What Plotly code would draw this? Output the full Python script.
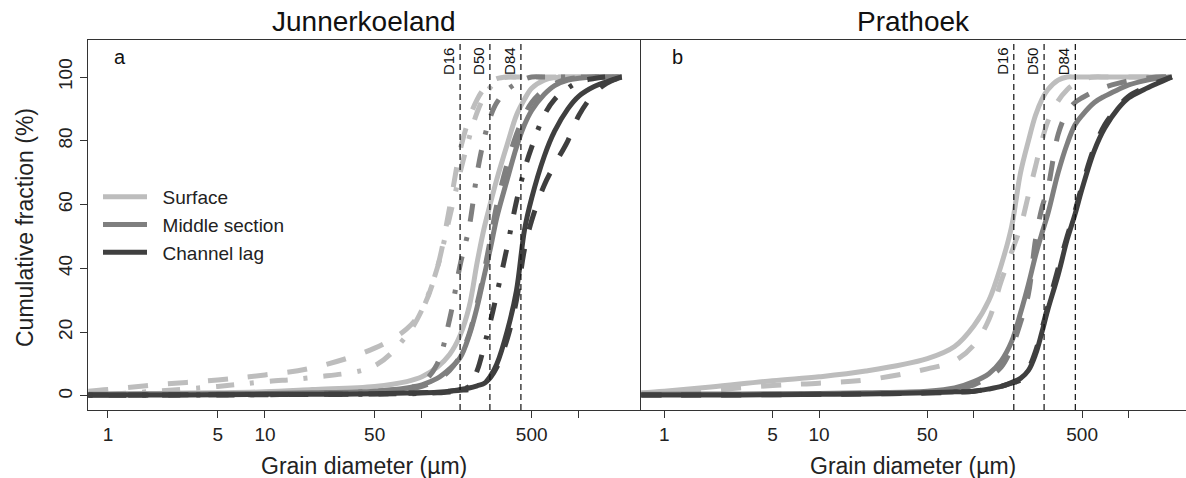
import math
import plotly.graph_objects as go

FONT = "Liberation Sans, Arial, sans-serif"
W, H = 1186, 478

# Colours of the three sampled horizons
C_SURF = "#bdbdbd"
C_MID = "#7f7f7f"
C_LAG = "#3f3f3f"

# ---- Junnerkoeland: grain-size classes (µm) and cumulative fractions (%) ----
JUN_DIAM = [0.75, 1, 2, 5, 10, 20, 50, 80, 100, 125, 150, 175, 200, 225, 250,
            275, 300, 350, 400, 450, 500, 600, 700, 850, 1000, 1250, 1500, 1870]

JUN_SURF_1 = [0.5, 0.6, 0.8, 1.0, 1.3, 2.0, 3.0, 4.5, 6, 9, 13, 19, 28, 42, 53,
              61, 68, 79, 88, 93, 96.5, 99, 99.8, 100, 100, 100, 100, 100]
JUN_SURF_2 = [1.5, 2, 3.5, 5, 6.6, 8.8, 15, 21, 27, 40, 59, 77, 87, 93, 96.5,
              98.5, 99.5, 100, 100, 100, 100, 100, 100, 100, 100, 100, 100, 100]
JUN_SURF_3 = [0.3, 0.5, 1.5, 3, 4.5, 5.8, 9.5, 19, 27, 40, 56, 70, 81, 89, 94,
              97, 99, 100, 100, 100, 100, 100, 100, 100, 100, 100, 100, 100]

JUN_MID_1 = [0.5, 0.5, 0.6, 0.7, 0.8, 1.0, 1.5, 2.5, 3.5, 5.5, 8.5, 12, 19, 28, 38,
             47, 56, 68, 78, 85, 89.5, 94.5, 97.3, 99, 99.6, 100, 100, 100]
JUN_MID_2 = [0.3, 0.3, 0.4, 0.5, 0.6, 0.8, 1.2, 2, 3, 5, 8, 12.5, 19.5, 29, 39.5,
             50, 60, 73, 82, 88, 92, 96, 98, 99.3, 99.8, 100, 100, 100]
JUN_MID_3 = [0.3, 0.3, 0.4, 0.5, 0.6, 0.8, 1.5, 2.5, 4, 10, 24, 41, 53, 70, 81,
             88, 92, 96, 98, 99.3, 100, 100, 100, 100, 100, 100, 100, 100]

JUN_LAG_1 = [0.3, 0.3, 0.3, 0.4, 0.5, 0.5, 0.7, 0.9, 1, 1.2, 1.5, 2, 2.5, 3.2, 4,
             6.5, 10, 20.5, 33, 52, 62, 75, 83, 90, 94, 97, 98.5, 100]
JUN_LAG_2 = [0.3, 0.3, 0.3, 0.4, 0.4, 0.5, 0.6, 0.8, 1, 1.2, 1.5, 1.8, 2, 3, 4,
             6, 9, 18, 30, 46, 55, 66, 72.5, 80, 88, 94.8, 98, 100]
JUN_LAG_3 = [0.2, 0.2, 0.3, 0.3, 0.4, 0.5, 0.6, 0.7, 0.8, 1, 1.2, 2, 3, 8, 16,
             24, 32, 47, 61, 71, 78, 88, 93, 96.5, 98.5, 99.5, 100, 100]

JUN_DPCT = [175, 271, 427]          # D16, D50, D84 (µm)

# ---- Prathoek ----
PRA_DIAM = [0.71, 1, 2, 5, 10, 20, 50, 75, 100, 125, 150, 175, 200, 225, 250,
            275, 300, 350, 400, 450, 500, 600, 700, 850, 1000, 1250, 1500, 1900]

PRA_SURF_1 = [1, 1.5, 2.8, 4.8, 6, 7.8, 11.7, 15.5, 22, 30, 41, 53, 70, 80, 88,
              93, 96, 99, 100, 100, 100, 100, 100, 100, 100, 100, 100, 100]
PRA_SURF_2 = [0.5, 0.8, 1.8, 3.3, 4, 5, 8.5, 11, 16, 24, 36, 45, 53, 63, 72,
              80, 86, 92.5, 96, 98, 99.3, 100, 100, 100, 100, 100, 100, 100]

PRA_MID_1 = [0.5, 0.5, 0.6, 0.7, 0.8, 1, 1.5, 2.5, 4.5, 7, 11, 17, 26, 35, 44,
             51, 57, 70, 79, 85, 88, 92, 94, 96, 97.5, 98.8, 99.5, 100]
PRA_MID_2 = [0.3, 0.3, 0.4, 0.5, 0.6, 0.8, 1.2, 2, 3.5, 6, 9, 15, 23, 32, 49,
             59, 65, 82, 89, 92, 93.5, 95.5, 96.8, 98, 98.8, 99.5, 100, 100]

PRA_LAG_1 = [0.3, 0.3, 0.3, 0.4, 0.5, 0.6, 1, 1.3, 1.5, 2.2, 3, 4.2, 5.5, 8, 13,
             20, 27, 38, 49, 57, 65, 77, 84, 90, 93.5, 96, 97.8, 100]
PRA_LAG_2 = [0.3, 0.3, 0.3, 0.4, 0.5, 0.6, 0.9, 1.2, 1.5, 2.2, 3, 4, 5, 8.5, 14,
             21, 28, 40, 50, 58, 66, 78, 85, 90.5, 94, 96.5, 98.2, 100]

PRA_DPCT = [181, 284, 452]

DPCT_LABELS = ["D16", "D50", "D84"]
LEGEND_NAMES = ["Surface", "Middle section", "Channel lag"]

X_TICKS = [1, 5, 10, 50, 100, 500, 1000]
X_TICK_TEXT = ["1", "5", "10", "50", "", "500", ""]
Y_TICKS = [0, 20, 40, 60, 80, 100]
Y_RANGE = [-4.4, 111.6]

DASH = {"solid": "solid", "dash": "20px,20px", "dashdot": "4px,16px,18px,16px"}
LW = 5


def curve(x, y, color, dash, xa, ya, name=None):
    return go.Scatter(
        x=x, y=y, mode="lines", xaxis=xa, yaxis=ya,
        line=dict(color=color, width=LW, dash=DASH[dash], shape="spline", smoothing=1.0),
        name=name or "", showlegend=name is not None, hoverinfo="skip",
    )


fig = go.Figure()

# Junnerkoeland panel
for color, series, name in [
    (C_SURF, [JUN_SURF_1, JUN_SURF_2, JUN_SURF_3], LEGEND_NAMES[0]),
    (C_MID, [JUN_MID_1, JUN_MID_2, JUN_MID_3], LEGEND_NAMES[1]),
    (C_LAG, [JUN_LAG_1, JUN_LAG_2, JUN_LAG_3], LEGEND_NAMES[2]),
]:
    for ys, dash, nm in zip(series, ["solid", "dash", "dashdot"], [name, None, None]):
        label = None if nm is None else "\u00a0\u00a0" + nm
        fig.add_trace(curve(JUN_DIAM, ys, color, dash, "x", "y", label))

# Prathoek panel
for color, series in [
    (C_SURF, [PRA_SURF_1, PRA_SURF_2]),
    (C_MID, [PRA_MID_1, PRA_MID_2]),
    (C_LAG, [PRA_LAG_1, PRA_LAG_2]),
]:
    for ys, dash in zip(series, ["solid", "dash"]):
        fig.add_trace(curve(PRA_DIAM, ys, color, dash, "x2", "y2"))

# Percentile reference lines
annotations = []
for dvals, xa, ya, xref in [(JUN_DPCT, "x", "y", "x"), (PRA_DPCT, "x2", "y2", "x2")]:
    for d, lab in zip(dvals, DPCT_LABELS):
        fig.add_trace(go.Scatter(
            x=[d, d], y=Y_RANGE, mode="lines", xaxis=xa, yaxis=ya,
            line=dict(color="#111", width=1.2, dash="6px,4px"),
            showlegend=False, hoverinfo="skip"))
        annotations.append(dict(
            x=math.log10(d), xref=xref, y=1 - 61 / H, yref="paper",
            text=lab, textangle=-90, showarrow=False, xshift=-11,
            xanchor="center", yanchor="middle",
            font=dict(family=FONT, size=15, color="#111")))

# Titles and labels
for txt, cx in [("Junnerkoeland", 364), ("Prathoek", 913)]:
    annotations.append(dict(x=cx / W, y=1 - 22 / H, xref="paper", yref="paper",
                            text=txt, showarrow=False, xanchor="center", yanchor="middle",
                            font=dict(family=FONT, size=28, color="#111")))
    annotations.append(dict(x=cx / W, y=1 - 466 / H, xref="paper", yref="paper",
                            text="Grain diameter (µm)", showarrow=False,
                            xanchor="center", yanchor="middle",
                            font=dict(family=FONT, size=23, color="#222")))
annotations.append(dict(x=25 / W, y=1 - 228 / H, xref="paper", yref="paper",
                        text="Cumulative fraction (%)", textangle=-90, showarrow=False,
                        xanchor="center", yanchor="middle",
                        font=dict(family=FONT, size=23, color="#222")))
for txt, cx in [("a", 120), ("b", 677)]:
    annotations.append(dict(x=cx / W, y=1 - 57 / H, xref="paper", yref="paper",
                            text=txt, showarrow=False, xanchor="center", yanchor="middle",
                            font=dict(family=FONT, size=20, color="#111")))

Y_DOM = [1 - 410 / H, 1 - 40 / H]
AX_COL = "#333"

x_common = dict(
    type="log", tickmode="array", tickvals=X_TICKS, ticktext=X_TICK_TEXT,
    ticks="outside", ticklen=7, tickwidth=1.2, tickcolor=AX_COL,
    showline=True, linecolor=AX_COL, linewidth=1.4, mirror=True,
    showgrid=False, zeroline=False,
    tickfont=dict(family=FONT, size=19, color="#222"),
)

fig.update_layout(
    width=W, height=H,
    margin=dict(l=0, r=0, t=0, b=0),
    paper_bgcolor="white", plot_bgcolor="white",
    font=dict(family=FONT, color="#222"),
    xaxis=dict(domain=[88 / W, 640 / W], range=[-0.127, 3.389], anchor="y", **x_common),
    xaxis2=dict(domain=[641 / W, 1.0], range=[-0.1505, 3.370], anchor="y2", **x_common),
    yaxis=dict(
        domain=Y_DOM, range=Y_RANGE, anchor="x", tickmode="array", tickvals=Y_TICKS,
        tickangle=-90, ticks="outside", ticklen=7, tickwidth=1.2, tickcolor=AX_COL,
        showline=True, linecolor=AX_COL, linewidth=1.4, mirror=True,
        showgrid=False, zeroline=False,
        tickfont=dict(family=FONT, size=19, color="#222"),
    ),
    yaxis2=dict(
        domain=Y_DOM, range=Y_RANGE, anchor="x2", showticklabels=False, ticks="",
        showline=True, linecolor=AX_COL, linewidth=1.4, mirror=False,
        showgrid=False, zeroline=False,
    ),
    legend=dict(
        x=98 / W, y=1 - 178 / H, xanchor="left", yanchor="top",
        bgcolor="rgba(0,0,0,0)", borderwidth=0,
        font=dict(family=FONT, size=19, color="#222"),
        tracegroupgap=0, itemwidth=44,
    ),
    annotations=annotations,
)

fig.write_html("out.html")
